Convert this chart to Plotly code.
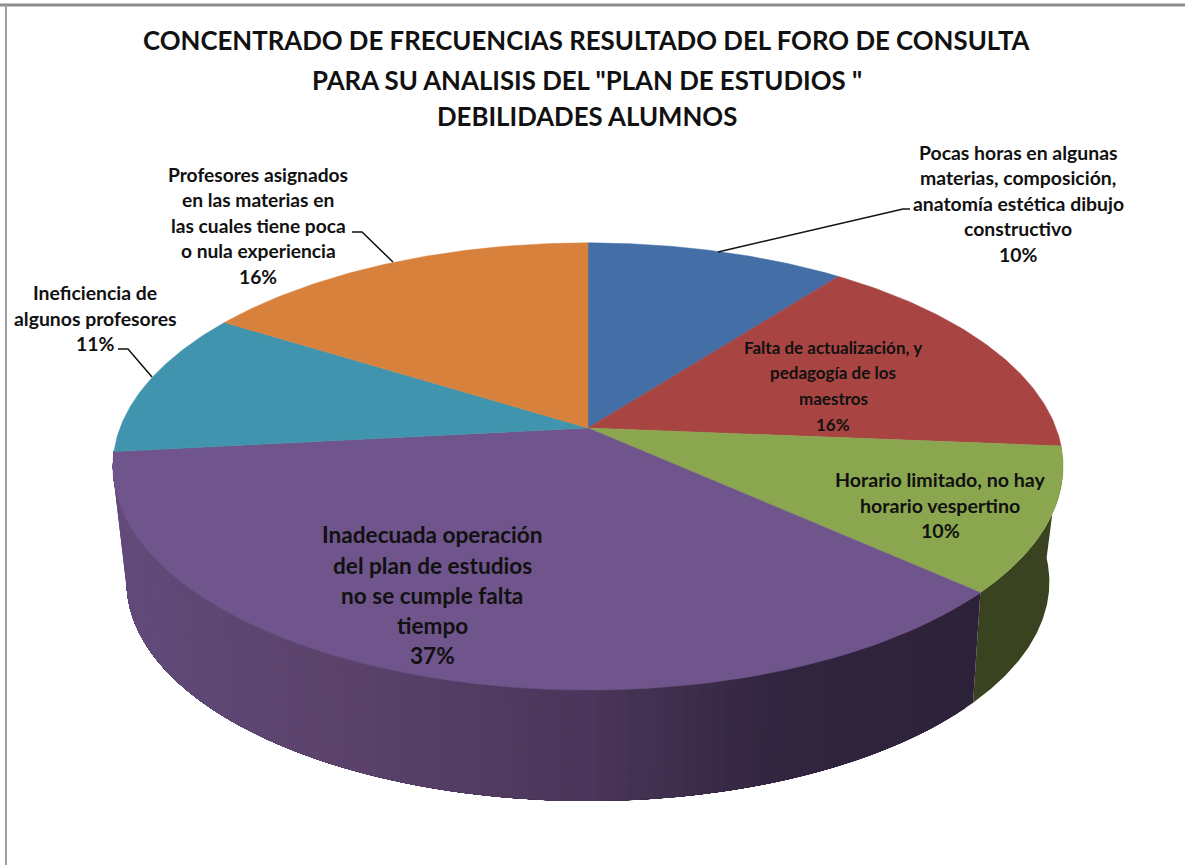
import numpy as np
import plotly.graph_objects as go

# ---- data ----
categories = [
    "Pocas horas en algunas materias, composición, anatomía estética dibujo constructivo",
    "Falta de actualización, y pedagogía de los maestros",
    "Horario limitado, no hay horario vespertino",
    "Inadecuada operación del plan de estudios no se cumple falta tiempo",
    "Ineficiencia de algunos profesores",
    "Profesores asignados en las materias en las cuales tiene poca o nula experiencia",
]
values = [10.4, 15.9, 10.4, 36.6, 10.6, 16.1]
title_lines = [
    "CONCENTRADO DE FRECUENCIAS RESULTADO DEL FORO DE CONSULTA",
    'PARA SU ANALISIS DEL "PLAN DE ESTUDIOS "',
    "DEBILIDADES ALUMNOS",
]
label_lines = [
    ["Pocas horas en algunas", "materias, composición,", "anatomía estética dibujo", "constructivo"],
    ["Falta de actualización, y", "pedagogía de los", "maestros"],
    ["Horario limitado, no hay", "horario vespertino"],
    ["Inadecuada operación", "del plan de estudios", "no se cumple falta", "tiempo"],
    ["Ineficiencia de", "algunos profesores"],
    ["Profesores asignados", "en las materias en", "las cuales tiene poca", "o nula experiencia"],
]

# ---- styling ----
top_colors = ["#446fa6", "#a84442", "#8aa64f", "#70558c", "#4094ad", "#d8813c"]
FONT = "Lato"
TEXT = "#111111"
label_x = [1018, 833, 940, 432, 95, 258]
label_y = [
    [152, 177, 203, 228, 254],
    [347, 372, 398, 424],
    [479, 505, 530],
    [534, 565, 595, 625, 655],
    [292, 318, 343],
    [174, 199, 225, 250, 276],
]
label_size = [19.4, 17, 19.6, 22.6, 19.4, 19.2]
leaders = [
    ([718, 903, 910], [252, 209, 209]),
    ([393, 362, 352], [262, 232, 232]),
    ([152, 128, 118], [377, 349, 349]),
]

# perspective projection of the pie disc (screen pixels, y down)
CX, CY, A, B, K = 588, 428, 468, 217, 0.172
BCX, BCY, BA, BB, BK = 588, 540.5, 453, 211, 0.19


def top(t):
    w = 1 + K * np.cos(t)
    return CX + A * np.sin(t) / w, CY - B * np.cos(t) / w


def bottom(t):
    w = 1 + BK * np.cos(t)
    return BCX + BA * np.sin(t) / w, BCY - BB * np.cos(t) / w


edges = 2 * np.pi * np.cumsum([0] + values) / sum(values)
fig = go.Figure()

# side wall: purple and green slices are the ones that face the viewer
purple_stops = [(-1.0, (98, 74, 122)), (-0.5, (90, 66, 106)), (0.0, (74, 54, 90)),
                (0.4, (50, 37, 63)), (1.0, (42, 32, 54))]


def purple_wall(x):
    u = (x - CX) / A
    xs = [s[0] for s in purple_stops]
    return tuple(np.interp(u, xs, [s[1][i] for s in purple_stops]) for i in range(3))


def wall(t0, t1, color):
    ts = np.linspace(t0, t1, 120)
    xa, ya = top(ts)
    xb, yb = bottom(ts[::-1])
    fig.add_trace(go.Scatter(x=np.r_[xa, xb], y=np.r_[ya, yb], mode="lines", fill="toself",
                             fillcolor=color, line=dict(width=0), hoverinfo="skip"))


# green wall, then the purple one, each step overlapping the previous so no seams show
wall(edges[2], edges[3], "#3a431f")
steps = np.linspace(edges[3], edges[4], 91)
for a, b in zip(steps[:-1], steps[1:]):
    c = purple_wall(top((a + b) / 2)[0])
    wall(a, edges[4], "rgb(%d,%d,%d)" % tuple(round(v) for v in c))

# top faces
for i, cat in enumerate(categories):
    ts = np.linspace(edges[i], edges[i + 1], 80)
    x, y = top(ts)
    fig.add_trace(go.Scatter(x=np.r_[CX, x, CX], y=np.r_[CY, y, CY], mode="lines", fill="toself",
                             fillcolor=top_colors[i], line=dict(color=top_colors[i], width=0.5),
                             name=cat, hovertemplate=f"{cat}: {values[i]:.0f}%<extra></extra>"))

# leader lines
for lx, ly in leaders:
    fig.add_trace(go.Scatter(x=lx, y=ly, mode="lines", line=dict(color="#111111", width=1.5), hoverinfo="skip"))

annotations = []


def text(x, y, s, size):
    annotations.append(dict(x=x, y=y, xref="x", yref="y", text=f"<b>{s}</b>", showarrow=False,
                            xanchor="center", yanchor="middle",
                            font=dict(family=FONT, size=size, color=TEXT)))


for y, line in zip([40, 80, 116], title_lines):
    text(587, y, line, 25.8)
for i, lines in enumerate(label_lines):
    for y, line in zip(label_y[i], lines + [f"{values[i]:.0f}%"]):
        text(label_x[i], y, line, label_size[i])

fig.update_layout(
    width=1185, height=865, margin=dict(l=0, r=0, t=0, b=0), showlegend=False,
    paper_bgcolor="white", plot_bgcolor="white",
    xaxis=dict(range=[0, 1185], visible=False, fixedrange=True),
    yaxis=dict(range=[865, 0], visible=False, fixedrange=True),
    annotations=annotations,
    shapes=[
        dict(type="line", xref="x", yref="y", x0=0, x1=1185, y0=5, y1=5, line=dict(color="#8c8c8c", width=3), layer="above"),
        dict(type="line", xref="x", yref="y", x0=6, x1=6, y0=5, y1=865, line=dict(color="#a0a0a0", width=2), layer="above"),
    ],
)
fig.write_html("out.html", config={"displayModeBar": False},
               post_script="document.body.style.margin='0';document.body.style.overflow='hidden';")
